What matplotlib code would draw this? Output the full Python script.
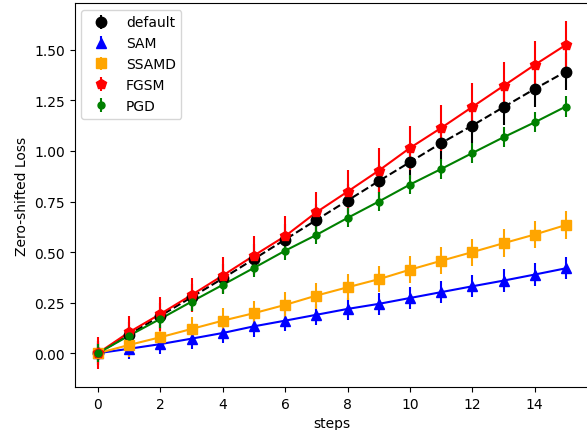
import matplotlib
matplotlib.use("Agg")
import matplotlib.pyplot as plt
import numpy as np

steps = list(range(16))

default_mean = [0.0, 0.092, 0.185, 0.277, 0.370, 0.466, 0.562, 0.659, 0.755, 0.851,
                0.945, 1.039, 1.126, 1.217, 1.307, 1.393]
default_err = [0.06, 0.062, 0.065, 0.067, 0.07, 0.072, 0.075, 0.077, 0.08, 0.082,
               0.085, 0.087, 0.088, 0.09, 0.09, 0.09]

sam_mean = [0.0, 0.022, 0.045, 0.072, 0.100, 0.133, 0.161, 0.190, 0.219, 0.244,
            0.273, 0.302, 0.331, 0.359, 0.389, 0.420]
sam_err = [0.05, 0.05, 0.05, 0.05, 0.051, 0.051, 0.052, 0.052, 0.053, 0.053,
           0.053, 0.054, 0.054, 0.055, 0.055, 0.055]

ssamd_mean = [0.0, 0.041, 0.079, 0.120, 0.161, 0.198, 0.239, 0.285, 0.326, 0.366,
              0.413, 0.457, 0.500, 0.544, 0.587, 0.634]
ssamd_err = [0.06, 0.06, 0.06, 0.061, 0.061, 0.062, 0.063, 0.064, 0.064, 0.065,
             0.066, 0.066, 0.067, 0.068, 0.069, 0.07]

fgsm_mean = [0.0, 0.104, 0.194, 0.288, 0.384, 0.483, 0.579, 0.697, 0.799, 0.903,
             1.015, 1.114, 1.218, 1.322, 1.426, 1.525]
fgsm_err = [0.08, 0.08, 0.083, 0.085, 0.09, 0.095, 0.1, 0.1, 0.105, 0.11,
            0.11, 0.115, 0.12, 0.12, 0.12, 0.12]

pgd_mean = [0.0, 0.087, 0.170, 0.255, 0.338, 0.422, 0.507, 0.585, 0.669, 0.750,
            0.834, 0.911, 0.990, 1.068, 1.142, 1.220]
pgd_err = [0.045, 0.045, 0.045, 0.045, 0.045, 0.046, 0.046, 0.047, 0.047, 0.047,
           0.048, 0.048, 0.048, 0.049, 0.049, 0.05]

series = [
    ('default', default_mean, default_err, 'black', 'o', 7.5, '--'),
    ('SAM', sam_mean, sam_err, 'blue', '^', 7.5, '-'),
    ('SSAMD', ssamd_mean, ssamd_err, 'orange', 's', 7, '-'),
    ('FGSM', fgsm_mean, fgsm_err, 'red', 'p', 7.5, '-'),
    ('PGD', pgd_mean, pgd_err, 'green', 'o', 5, '-'),
]

fig = plt.figure(figsize=(5.87, 4.31), dpi=100)
ax = fig.add_axes([0.127, 0.0998, 0.877, 0.891])

for label, mean, err, color, marker, ms, ls in series:
    ax.errorbar(steps, mean, yerr=err, color=color, marker=marker,
                ms=ms, linestyle='none', label=label)
    ax.plot(steps, mean, color=color, linestyle=ls)

ax.set_xlim(-0.75, 15.75)
ax.set_ylim(-0.167, 1.732)
ax.set_xticks(range(0, 16, 2))
ax.set_xlabel('steps')
ax.set_ylabel('Zero-shifted Loss')
ax.legend(loc='upper left')

fig.savefig('out.png', dpi=100)
